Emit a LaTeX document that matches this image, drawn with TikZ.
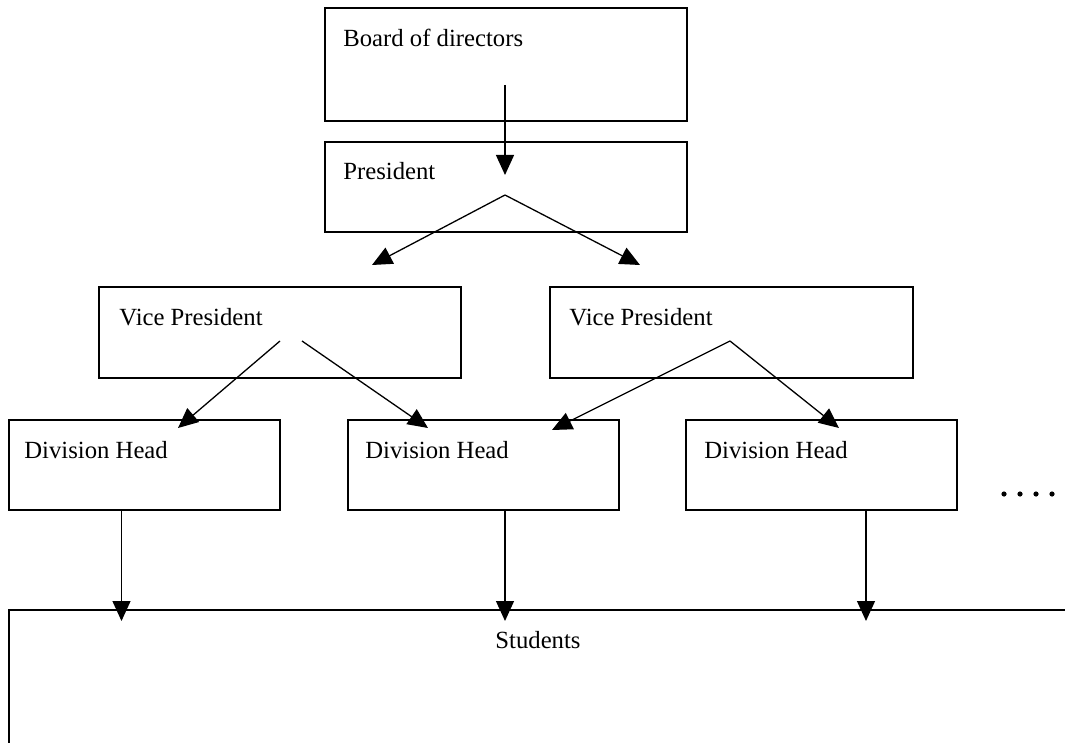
\documentclass[tikz,border=0pt]{standalone}
\usepackage{fontspec}
\setmainfont{Liberation Serif}
\usetikzlibrary{arrows.meta}
\begin{document}
\begin{tikzpicture}[x=0.5pt,y=-0.5pt,
  box/.style={draw,line width=0.8pt,rectangle,inner sep=0pt,anchor=north west},
  lbl/.style={anchor=base west,inner sep=0pt,font=\fontsize{12.35pt}{14pt}\selectfont},
  conn/.style={line width=0.65pt,-{Triangle[length=10pt,width=9pt]}}]
\useasboundingbox (0,0) rectangle (1065,743);
\clip (0,0) rectangle (1065,743);
% boxes
\node[box,minimum width=181pt,minimum height=56.5pt] (board) at (324,7) {};
\node[box,minimum width=181pt,minimum height=45pt] (pres) at (324,141) {};
\node[box,minimum width=181pt,minimum height=45.5pt] (vp1) at (98,286) {};
\node[box,minimum width=181.5pt,minimum height=45.5pt] (vp2) at (549,286) {};
\node[box,minimum width=135.5pt,minimum height=45pt] (dh1) at (8,419) {};
\node[box,minimum width=135.5pt,minimum height=45pt] (dh2) at (347,419) {};
\node[box,minimum width=135.5pt,minimum height=45pt] (dh3) at (685,419) {};
\node[box,minimum width=540pt,minimum height=80pt] (stud) at (8,609) {};
% labels
\node[lbl] (tboard) at (343,47) {Board of directors};
\node[lbl] (tpres) at (343,180) {President};
\node[lbl] (tvp1) at (119,325) {Vice President};
\node[lbl] (tvp2) at (569,325) {Vice President};
\node[lbl] (tdh1) at (24,458) {Division Head};
\node[lbl] (tdh2) at (365,458) {Division Head};
\node[lbl] (tdh3) at (704,458) {Division Head};
\node[lbl,anchor=base] (tstud) at (538,648) {Students};
% connector points
\coordinate (bS) at (505,85);
\coordinate (pT) at (505,175);
\coordinate (pS) at (505,195);
\coordinate (v1T) at (372,265);
\coordinate (v2T) at (640,265);
\coordinate (v1Sa) at (280,341);
\coordinate (v1Sb) at (302,341);
\coordinate (v2S) at (730,341);
\coordinate (d1T) at (178,428);
\coordinate (d2Ta) at (428,428);
\coordinate (d2Tb) at (552,430);
\coordinate (d3T) at (839,428);
\coordinate (s1) at (121.5,621);
\coordinate (s2) at (505,621);
\coordinate (s3) at (866,621);
% connectors
\draw[conn] (bS) -- (pT);
\draw[conn] (pS) -- (v1T);
\draw[conn] (pS) -- (v2T);
\draw[conn] (v1Sa) -- (d1T);
\draw[conn] (v1Sb) -- (d2Ta);
\draw[conn] (v2S) -- (d2Tb);
\draw[conn] (v2S) -- (d3T);
\draw[conn] (dh1.south -| s1) -- (s1);
\draw[conn] (dh2.south -| s2) -- (s2);
\draw[conn] (dh3.south -| s3) -- (s3);
% dots
\foreach \i in {0,...,4} \fill (1004+16*\i,494) circle (1.3pt);
\end{tikzpicture}
\end{document}
